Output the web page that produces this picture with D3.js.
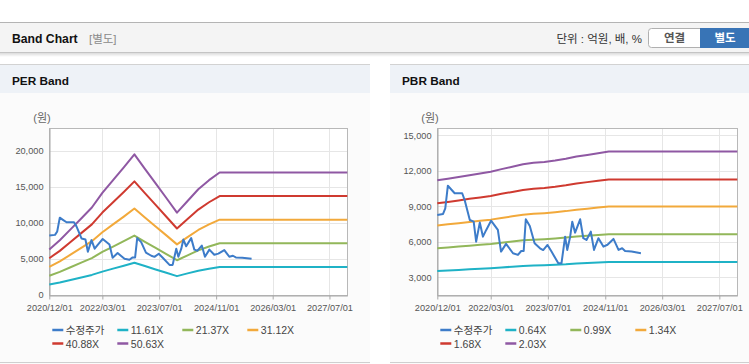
<!DOCTYPE html>
<html>
<head>
<meta charset="utf-8">
<script src="https://cdn.jsdelivr.net/npm/d3@7"></script>
<style>
  html, body { margin: 0; padding: 0; background: #fff; }
  svg { display: block; }
</style>
</head>
<body>
<div id="chart"></div>
<script>
// x axis
const xTickLabels = ["2020/12/01", "2022/03/01", "2023/07/01", "2024/11/01", "2026/03/01", "2027/07/01"];
const xDomain = ["2020-12-01", "2027-12-01"];

// 수정주가 (same for both charts)
const priceDates = [
  "2020-12-01", "2021-01-19", "2021-02-07", "2021-03-01", "2021-03-28", "2021-04-28", "2021-07-01",
  "2021-07-22", "2021-09-04", "2021-10-07", "2021-10-28", "2021-11-28", "2021-12-25", "2022-01-22",
  "2022-03-04", "2022-05-01", "2022-05-28", "2022-07-10", "2022-09-07", "2022-10-19", "2022-11-16",
  "2022-12-07", "2022-12-25", "2023-01-28", "2023-03-10", "2023-04-25", "2023-05-22", "2023-06-28",
  "2023-08-01", "2023-09-28", "2023-10-25", "2023-11-25", "2023-12-13", "2024-01-07", "2024-01-25",
  "2024-02-18", "2024-04-01", "2024-04-28", "2024-05-25", "2024-07-01", "2024-07-28", "2024-09-04",
  "2024-10-16", "2024-11-20", "2025-01-10", "2025-02-22", "2025-03-25", "2025-04-19", "2025-06-13",
  "2025-09-01"
];
const priceValues = [
  8270, 8350, 8830, 10740, 10440, 10100, 10100,
  9530, 7840, 7700, 6010, 7620, 6430, 7000,
  7780, 7000, 5170, 5820, 5030, 4890, 5220,
  5220, 7900, 7340, 5880, 5450, 5300, 5730,
  5170, 4180, 4180, 6430, 5310, 6430, 7700,
  6770, 7900, 6300, 6150, 6860, 5310, 6300,
  5590, 5750, 6240, 5310, 5450, 5220, 5170,
  5030
];

// band knots (quarter ends, last value held to the end of the axis)
const bandDates = [
  "2020-12-01", "2021-03-01", "2021-06-01", "2021-09-01", "2021-12-01", "2022-03-01",
  "2022-06-01", "2022-09-01", "2022-12-01", "2023-03-01", "2023-06-01", "2023-09-01",
  "2023-12-01", "2024-03-01", "2024-06-01", "2024-09-01", "2024-12-01", "2027-12-01"
];

// PER band
const perLabels = ["11.61X", "21.37X", "31.12X", "40.88X", "50.63X"];
const per1161 = [1450, 1740, 2090, 2440, 2790, 3250, 3660, 4060, 4480, 4020, 3550, 3090, 2620, 3000, 3370, 3660, 3900, 3900];
const per2137 = [2670, 3210, 3850, 4490, 5130, 5980, 6730, 7480, 8250, 7390, 6540, 5680, 4830, 5510, 6200, 6730, 7180, 7180];
const per3112 = [3890, 4670, 5600, 6540, 7470, 8710, 9800, 10890, 12010, 10770, 9520, 8280, 7030, 8030, 9030, 9800, 10460, 10460];
const per4088 = [5110, 6130, 7360, 8590, 9810, 11450, 12880, 14310, 15780, 14140, 12510, 10870, 9240, 10550, 11860, 12880, 13740, 13740];
const per5063 = [6330, 7600, 9110, 10630, 12150, 14180, 15950, 17720, 19540, 17520, 15490, 13470, 11440, 13060, 14680, 15950, 17010, 17010];
const perYTicks = [0, 5000, 10000, 15000, 20000];
const perYDomain = [0, 23150];

// PBR band
const pbrLabels = ["0.64X", "0.99X", "1.34X", "1.68X", "2.03X"];
const pbr064 = [3530, 3570, 3620, 3670, 3710, 3760, 3830, 3890, 3960, 3990, 4020, 4060, 4100, 4160, 4210, 4250, 4290, 4290];
const pbr099 = [5460, 5520, 5590, 5670, 5740, 5810, 5920, 6020, 6120, 6180, 6220, 6280, 6350, 6440, 6500, 6570, 6640, 6640];
const pbr134 = [7380, 7480, 7570, 7680, 7770, 7870, 8010, 8150, 8280, 8360, 8420, 8500, 8590, 8710, 8800, 8900, 8990, 8990];
const pbr168 = [9260, 9370, 9490, 9630, 9740, 9860, 10050, 10210, 10380, 10480, 10550, 10650, 10770, 10920, 11040, 11160, 11270, 11270];
const pbr203 = [11190, 11330, 11470, 11630, 11770, 11920, 12140, 12340, 12550, 12670, 12750, 12870, 13010, 13200, 13340, 13480, 13620, 13620];
const pbrYTicks = [3000, 6000, 9000, 12000, 15000];
const pbrYDomain = [1500, 15590];

const seriesColors = ["#3d7cc9", "#1fb2c6", "#92b75a", "#f2a93b", "#cf3a30", "#8f58a3"];

const W = 749, H = 364;
const FONT = "'Liberation Sans', 'Noto Sans CJK KR', sans-serif";
const parse = d3.timeParse("%Y-%m-%d");
const parseTick = d3.timeParse("%Y/%m/%d");

const svg = d3.select("#chart").append("svg")
  .attr("width", W).attr("height", H)
  .style("font-family", FONT);

const defs = svg.append("defs");
const shadow = defs.append("linearGradient").attr("id", "hdrShadow")
  .attr("x1", 0).attr("x2", 0).attr("y1", 0).attr("y2", 1);
shadow.append("stop").attr("offset", 0).attr("stop-color", "#000").attr("stop-opacity", 0.14);
shadow.append("stop").attr("offset", 1).attr("stop-color", "#000").attr("stop-opacity", 0);

// ---- top header ----
svg.append("rect").attr("x", 0).attr("y", 22).attr("width", W).attr("height", 31).attr("fill", "#f4f4f4");
svg.append("line").attr("x1", 0).attr("x2", W).attr("y1", 22.5).attr("y2", 22.5).attr("stroke", "#b4b4b4");
svg.append("line").attr("x1", 0).attr("x2", W).attr("y1", 52.5).attr("y2", 52.5).attr("stroke", "#c4c4c4");
svg.append("rect").attr("x", 0).attr("y", 53).attr("width", W).attr("height", 4).attr("fill", "url(#hdrShadow)");

svg.append("text").attr("x", 12).attr("y", 42.5)
  .attr("font-size", 12.2).attr("font-weight", "bold").attr("fill", "#111")
  .text("Band Chart");
svg.append("text").attr("x", 89).attr("y", 42.5)
  .attr("font-size", 11.5).attr("fill", "#8a8a8a")
  .text("[별도]");
svg.append("text").attr("x", 642).attr("y", 42.5)
  .attr("font-size", 11.5).attr("fill", "#333").attr("text-anchor", "end")
  .text("단위 : 억원, 배, %");

// toggle buttons
svg.append("path")
  .attr("d", "M700.5,28.5 H651.5 Q648.5,28.5 648.5,31.5 V44.5 Q648.5,47.5 651.5,47.5 H700.5 Z")
  .attr("fill", "#fff").attr("stroke", "#b0b0b0");
svg.append("text").attr("x", 674.5).attr("y", 42.3).attr("text-anchor", "middle")
  .attr("font-size", 11.5).attr("font-weight", "bold").attr("fill", "#555").text("연결");
svg.append("rect").attr("x", 700).attr("y", 28).attr("width", 52).attr("height", 20).attr("fill", "#3874b6");
svg.append("text").attr("x", 725).attr("y", 42.3).attr("text-anchor", "middle")
  .attr("font-size", 11.5).attr("font-weight", "bold").attr("fill", "#fff").text("별도");

// ---- band panels ----
function drawPanel(p) {
  const g = svg.append("g");

  g.append("rect").attr("x", p.x0).attr("y", 64).attr("width", p.x1 - p.x0).attr("height", H - 64).attr("fill", "#fbfbfb");
  g.append("rect").attr("x", p.x0).attr("y", 64).attr("width", p.x1 - p.x0).attr("height", 29).attr("fill", "#eef2f7");
  g.append("line").attr("x1", p.x0).attr("x2", p.x1).attr("y1", 64.5).attr("y2", 64.5).attr("stroke", "#d2d2d2");
  g.append("line").attr("x1", p.x0).attr("x2", p.x1).attr("y1", 362.5).attr("y2", 362.5).attr("stroke", "#cfcfcf");
  g.append("text").attr("x", p.x0 + 12).attr("y", 84.5)
    .attr("font-size", 11.8).attr("font-weight", "bold").attr("fill", "#111").text(p.title);

  const left = p.left, right = p.left + 300 - p.trim, top = 128.3, bottom = 295;
  const x = d3.scaleTime().domain(xDomain.map(parse)).range([left, right]);
  const y = d3.scaleLinear().domain(p.yDomain).range([bottom, top]);

  g.append("rect").attr("x", left).attr("y", top).attr("width", right - left).attr("height", bottom - top).attr("fill", "#fff");

  const tickDates = xTickLabels.map(parseTick);

  // grid
  g.append("g").selectAll("line").data(p.yTicks).join("line")
    .attr("x1", left).attr("x2", right)
    .attr("y1", d => Math.round(y(d)) + 0.5).attr("y2", d => Math.round(y(d)) + 0.5)
    .attr("stroke", "#e6e6e6");
  g.append("g").selectAll("line").data(tickDates).join("line")
    .attr("x1", d => Math.round(x(d)) + 0.5).attr("x2", d => Math.round(x(d)) + 0.5)
    .attr("y1", top).attr("y2", bottom)
    .attr("stroke", "#e6e6e6");

  // frame
  g.append("rect").attr("x", Math.round(left) + 0.5).attr("y", Math.round(top) + 0.5)
    .attr("width", Math.round(right - left)).attr("height", Math.round(bottom - top))
    .attr("fill", "none").attr("stroke", "#b8b8b8");

  // axes
  const xAxis = d3.axisBottom(x).tickValues(tickDates)
    .tickFormat(d3.timeFormat("%Y/%m/%d")).tickSize(4).tickSizeOuter(0);
  const gx = g.append("g").attr("transform", `translate(0,${Math.round(bottom) + 0.5})`).call(xAxis);
  gx.select(".domain").attr("stroke", "#a8a8a8");
  gx.selectAll(".tick line").attr("stroke", "#a8a8a8");
  gx.selectAll("text").attr("font-family", FONT).attr("font-size", 9.2).attr("fill", "#555").attr("dy", "0.9em");

  const yAxis = d3.axisLeft(y).tickValues(p.yTicks).tickFormat(d3.format(",")).tickSize(0).tickPadding(6);
  const gy = g.append("g").attr("transform", `translate(${Math.round(left) + 0.5},0)`).call(yAxis);
  gy.select(".domain").attr("stroke", "#a8a8a8");
  gy.selectAll("text").attr("font-family", FONT).attr("font-size", 9.2).attr("fill", "#555");

  g.append("text").attr("x", left - 16).attr("y", 122)
    .attr("font-size", 11).attr("fill", "#666").text("(원)");

  // lines
  const line = d3.line().x(d => x(d[0])).y(d => y(d[1]));
  const bands = p.bands;
  bands.forEach((vals, i) => {
    g.append("path")
      .datum(bandDates.map((d, j) => [parse(d), vals[j]]))
      .attr("d", line).attr("fill", "none")
      .attr("stroke", seriesColors[i + 1]).attr("stroke-width", 2)
      .attr("stroke-linejoin", "round");
  });
  g.append("path")
    .datum(priceDates.map((d, j) => [parse(d), priceValues[j]]))
    .attr("d", line).attr("fill", "none")
    .attr("stroke", seriesColors[0]).attr("stroke-width", 2)
    .attr("stroke-linejoin", "round");

  // legend
  const names = ["수정주가"].concat(p.labels);
  const lg = g.append("g");
  names.forEach((n, i) => {
    const col = i % 4, row = Math.floor(i / 4);
    const lx = left + 3 + col * 65, ly = 330 + row * 13.5;
    lg.append("line").attr("x1", lx).attr("x2", lx + 11).attr("y1", ly).attr("y2", ly)
      .attr("stroke", seriesColors[i]).attr("stroke-width", 2.5);
    lg.append("text").attr("x", lx + 13.5).attr("y", ly + 4)
      .attr("font-size", 10.5).attr("fill", "#444").text(n);
  });
}

drawPanel({
  title: "PER Band", x0: 0, x1: 370, left: 49.3, trim: 2,
  yDomain: perYDomain, yTicks: perYTicks, labels: perLabels,
  bands: [per1161, per2137, per3112, per4088, per5063]
});
drawPanel({
  title: "PBR Band", x0: 390, x1: W, left: 437.3, trim: 0,
  yDomain: pbrYDomain, yTicks: pbrYTicks, labels: pbrLabels,
  bands: [pbr064, pbr099, pbr134, pbr168, pbr203]
});
</script>
</body>
</html>
